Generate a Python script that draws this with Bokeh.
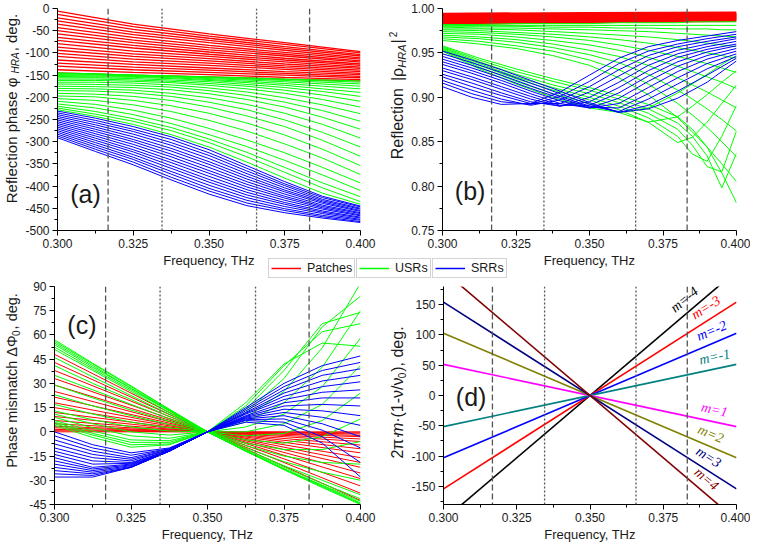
import math
from bokeh.plotting import figure
from bokeh.models import (Range1d, FixedTicker, NumeralTickFormatter, Span, Label,
                          Legend, LegendItem)
from bokeh.layouts import column, row
from bokeh.embed import file_html
from bokeh.resources import INLINE

# ---------------------------------------------------------------- data
FREQ_TICKS = [0.300, 0.325, 0.350, 0.375, 0.400]
FREQ_MINOR = [0.3125, 0.3375, 0.3625, 0.3875]
MARKER_FREQS = [0.3167, 0.3345, 0.3657, 0.3832]
MARKER_DASH = ["6 3", "2 2", "2 2", "6 3"]
FAMILIES = ["Patches", "USRs", "SRRs"]

X3 = [0.300, 0.350, 0.400]
X5 = [0.300, 0.325, 0.350, 0.375, 0.400]
X9 = [0.300, 0.3125, 0.325, 0.3375, 0.350, 0.3625, 0.375, 0.3875, 0.400]
XB_GREEN = [0.300, 0.3125, 0.325, 0.3375, 0.350, 0.360, 0.370, 0.380, 0.385, 0.390, 0.395, 0.400]
XB_BLUE = [0.300, 0.310, 0.320, 0.330, 0.340, 0.350, 0.360, 0.370, 0.380, 0.390, 0.400]

# (a) reflection phase, deg. -- patches, one row per frequency of X5
A_RED_BY_FREQ = [
    [-6, -13, -21, -28, -35, -43, -50, -57, -65, -72, -79, -87, -94, -101, -108, -116, -123, -130, -138, -145],
    [-35, -41, -47, -53, -59, -65, -71, -77, -83, -89, -96, -102, -108, -114, -120, -126, -132, -138, -144, -150],
    [-57, -62, -67, -72, -77, -83, -88, -93, -98, -103, -108, -113, -118, -123, -128, -134, -139, -144, -149, -154],
    [-77, -81, -86, -90, -94, -99, -103, -107, -112, -116, -120, -125, -129, -133, -137, -142, -146, -150, -155, -159],
    [-97, -100, -104, -107, -111, -114, -118, -121, -125, -128, -132, -135, -139, -142, -146, -149, -153, -156, -160, -163],
]
# (a) USRs, one curve per row over X9
A_GREEN_CURVES = [
    [-145, -147, -150, -152, -154, -156, -159, -161, -163],
    [-146, -148, -150, -152, -155, -157, -160, -163, -166],
    [-147, -148, -150, -153, -156, -159, -162, -166, -170],
    [-149, -150, -152, -154, -158, -161, -165, -170, -175],
    [-151, -152, -153, -156, -160, -164, -169, -175, -181],
    [-153, -154, -155, -158, -162, -167, -173, -181, -189],
    [-156, -156, -158, -161, -165, -171, -178, -187, -198],
    [-159, -159, -161, -164, -169, -175, -184, -195, -209],
    [-162, -162, -164, -167, -173, -181, -191, -205, -222],
    [-166, -166, -168, -172, -179, -188, -201, -217, -237],
    [-170, -171, -173, -177, -185, -196, -211, -230, -254],
    [-175, -176, -178, -183, -192, -205, -222, -245, -272],
    [-180, -181, -184, -191, -201, -216, -236, -261, -292],
    [-185, -186, -190, -198, -211, -228, -251, -279, -312],
    [-191, -193, -198, -207, -222, -242, -266, -297, -333],
    [-197, -199, -207, -219, -236, -258, -285, -317, -354],
    [-203, -207, -217, -232, -252, -276, -305, -337, -374],
    [-209, -216, -229, -247, -270, -296, -325, -358, -393],
    [-215, -224, -239, -259, -284, -311, -342, -375, -410],
    [-220, -232, -248, -268, -294, -324, -358, -393, -424],
    [-224, -238, -254, -275, -302, -334, -369, -404, -435],
    [-228, -243, -261, -284, -312, -346, -382, -416, -441],
]
# (a) SRRs, one row per frequency of X9
A_BLUE_BY_FREQ = [
    [-231, -235, -239, -243, -247, -251, -255, -259, -263, -267, -271, -275, -279, -283, -287, -291],
    [-247, -252, -257, -262, -267, -272, -277, -282, -287, -292, -297, -302, -307, -312, -317, -322],
    [-266, -272, -277, -283, -289, -295, -300, -306, -312, -318, -323, -329, -335, -340, -346, -352],
    [-289, -295, -302, -308, -315, -321, -328, -334, -341, -347, -354, -360, -367, -373, -380, -386],
    [-318, -325, -331, -338, -345, -351, -358, -365, -371, -378, -385, -391, -398, -405, -411, -418],
    [-354, -360, -366, -372, -378, -384, -390, -396, -402, -408, -414, -420, -426, -432, -438, -444],
    [-390, -395, -399, -404, -409, -413, -418, -423, -427, -432, -437, -441, -446, -451, -455, -460],
    [-423, -426, -430, -433, -436, -439, -443, -446, -449, -452, -456, -459, -462, -466, -469, -472],
    [-445, -447, -450, -452, -455, -457, -460, -462, -465, -467, -470, -472, -475, -477, -480, -482],
]

# (b) reflection |rho|^2 -- patches, one row per frequency of X3
B_RED_BY_FREQ = [
    [0.9935, 0.9923, 0.9912, 0.9900, 0.9888, 0.9877, 0.9865, 0.9853, 0.9842, 0.9830],
    [0.9945, 0.9934, 0.9924, 0.9913, 0.9903, 0.9892, 0.9881, 0.9871, 0.9860, 0.9850],
    [0.9950, 0.9941, 0.9931, 0.9922, 0.9912, 0.9903, 0.9894, 0.9884, 0.9875, 0.9865],
]
# (b) USRs, one curve per row over XB_GREEN
B_GREEN_CURVES = [
    [0.982, 0.982, 0.983, 0.983, 0.983, 0.984, 0.984, 0.984, 0.985, 0.985, 0.985, 0.985],
    [0.981, 0.981, 0.981, 0.981, 0.981, 0.981, 0.981, 0.981, 0.981, 0.981, 0.981, 0.981],
    [0.980, 0.980, 0.980, 0.979, 0.979, 0.978, 0.978, 0.977, 0.977, 0.977, 0.976, 0.976],
    [0.979, 0.978, 0.978, 0.977, 0.976, 0.975, 0.974, 0.972, 0.971, 0.970, 0.969, 0.968],
    [0.977, 0.977, 0.976, 0.974, 0.972, 0.970, 0.968, 0.965, 0.963, 0.961, 0.959, 0.957],
    [0.976, 0.975, 0.973, 0.971, 0.968, 0.965, 0.961, 0.956, 0.953, 0.950, 0.947, 0.944],
    [0.974, 0.973, 0.971, 0.968, 0.964, 0.959, 0.953, 0.946, 0.942, 0.938, 0.933, 0.928],
    [0.972, 0.971, 0.968, 0.964, 0.959, 0.953, 0.945, 0.935, 0.929, 0.923, 0.917, 0.910],
    [0.970, 0.968, 0.965, 0.960, 0.953, 0.946, 0.936, 0.922, 0.914, 0.906, 0.897, 0.888],
    [0.968, 0.966, 0.962, 0.956, 0.948, 0.939, 0.926, 0.908, 0.898, 0.887, 0.875, 0.862],
    [0.966, 0.963, 0.958, 0.952, 0.942, 0.931, 0.915, 0.893, 0.880, 0.866, 0.850, 0.833],
    [0.964, 0.960, 0.955, 0.947, 0.936, 0.922, 0.903, 0.877, 0.861, 0.844, 0.825, 0.805],
    [0.952, 0.932, 0.915, 0.900, 0.888, 0.883, 0.888, 0.905, 0.915, 0.926, 0.937, 0.947],
    [0.953, 0.934, 0.918, 0.904, 0.893, 0.883, 0.872, 0.878, 0.890, 0.903, 0.917, 0.930],
    [0.954, 0.936, 0.921, 0.908, 0.897, 0.886, 0.872, 0.849, 0.855, 0.872, 0.893, 0.914],
    [0.955, 0.938, 0.923, 0.911, 0.900, 0.890, 0.877, 0.856, 0.836, 0.828, 0.856, 0.891],
    [0.956, 0.940, 0.926, 0.914, 0.904, 0.894, 0.882, 0.864, 0.846, 0.822, 0.816, 0.862],
    [0.957, 0.942, 0.929, 0.918, 0.908, 0.898, 0.887, 0.871, 0.856, 0.834, 0.798, 0.837],
    [0.958, 0.944, 0.932, 0.921, 0.911, 0.902, 0.892, 0.878, 0.864, 0.844, 0.815, 0.781],
]
# (b) SRRs, one curve per row over XB_BLUE
B_BLUE_CURVES = [
    [0.912, 0.900, 0.892, 0.893, 0.906, 0.925, 0.944, 0.957, 0.964, 0.969, 0.974],
    [0.916, 0.904, 0.895, 0.892, 0.901, 0.918, 0.938, 0.952, 0.960, 0.966, 0.971],
    [0.919, 0.908, 0.898, 0.891, 0.897, 0.912, 0.931, 0.947, 0.957, 0.963, 0.968],
    [0.923, 0.912, 0.902, 0.893, 0.893, 0.906, 0.924, 0.942, 0.953, 0.960, 0.966],
    [0.926, 0.916, 0.905, 0.895, 0.890, 0.900, 0.917, 0.936, 0.949, 0.957, 0.963],
    [0.930, 0.920, 0.909, 0.898, 0.890, 0.895, 0.911, 0.930, 0.945, 0.954, 0.960],
    [0.933, 0.923, 0.912, 0.901, 0.891, 0.891, 0.905, 0.924, 0.940, 0.951, 0.958],
    [0.937, 0.927, 0.916, 0.904, 0.893, 0.888, 0.899, 0.918, 0.935, 0.947, 0.955],
    [0.940, 0.930, 0.919, 0.907, 0.896, 0.888, 0.893, 0.911, 0.929, 0.943, 0.952],
    [0.943, 0.933, 0.922, 0.910, 0.899, 0.889, 0.888, 0.904, 0.922, 0.938, 0.949],
    [0.946, 0.936, 0.925, 0.913, 0.901, 0.890, 0.884, 0.898, 0.915, 0.932, 0.946],
    [0.949, 0.939, 0.928, 0.916, 0.904, 0.892, 0.883, 0.891, 0.907, 0.925, 0.944],
    [0.952, 0.942, 0.931, 0.919, 0.907, 0.894, 0.883, 0.887, 0.899, 0.917, 0.941],
]

# (c) phase mismatch, deg. -- patches, one row per frequency of X3
C_RED_BY_FREQ = [
    [0, 0.7, 1.5, 2.5, 3.5, 5, 7, 9.5, 12, 15, 18, 21.5, 25, 29, 33, 38, 43, 48],
    [0, 0, 0, 0, 0, 0, 0, 0, 0, 0, 0, 0, 0, 0, 0, 0, 0, 0],
    [0, -0.6, -1.3, -2.2, -3, -4.4, -6, -8.2, -10.5, -13, -16, -19, -22, -25.5, -29, -33.5, -38, -42.5],
]
# (c) USRs, one curve per row over X9
C_GREEN_CURVES = [
    [57, 42.5, 28.5, 14, 0, -12, -23.5, -34.5, -45],
    [56, 42, 28, 14, 0, -12, -23, -34, -44.5],
    [55, 41, 27, 13.5, 0, -12, -23, -33.5, -44],
    [54, 40, 27, 13, 0, -12, -23, -33, -43],
    [52.5, 39, 26, 13, 0, -11.5, -22, -32, -41.5],
    [51, 38, 25, 12, 0, -11, -21, -30, -39],
    [46, 34, 22.5, 11, 0, -10, -18.5, -25, -30],
    [41, 30, 20, 9.5, 0, -8.5, -15, -19, -20],
    [35, 26, 17, 8, 0, -7, -11, -11, -6],
    [29, 21, 13.5, 6.5, 0, -5, -7, -3, 8],
    [23, 16, 10, 4.5, 0, -2.5, -1, 7, 24],
    [17, 11, 6, 2.5, 0, 0, 5, 17, 41],
    [13, 7.5, 3, 0.5, 0, 3, 11, 28, 58],
    [11, 5, 0, -2, 0, 6, 18, 40, 75],
    [9, 2.5, -2.5, -4, 0, 9, 25, 52, 92],
    [7, 0.5, -5, -5.5, 0, 12, 33, 65, 84],
    [6, -1, -6.5, -6.5, 0, 14, 38, 67, 74],
    [5, -2, -8, -7.5, 0, 16, 41, 62, 67],
    [4, -3.5, -9.5, -8, 0, 18, 42, 55, 53],
]
# (c) SRRs, one row per frequency of X9
C_BLUE_BY_FREQ = [
    [-28, -26, -24, -22, -20, -18, -16, -14, -12, -10, -7.5, -5, -2.5, 0],
    [-28, -27, -26, -25, -24, -23, -22, -20, -18, -16, -14, -12, -10, -8],
    [-22, -22, -22, -21.5, -21, -20.5, -20, -19.5, -19, -18, -17, -16, -14.5, -13],
    [-12, -12, -12, -12, -12, -12, -12, -11.5, -11.5, -11, -11, -10.5, -10.5, -10],
    [0, 0, 0, 0, 0, 0, 0, 0, 0, 0, 0, 0, 0, 0],
    [15, 14, 13, 12, 11.5, 11, 10, 9.5, 9, 8.5, 8, 7.5, 7, 6],
    [30, 28, 26, 24, 22, 20, 18, 16, 14, 12, 10, 8, 6, 4],
    [41, 38, 35, 31.5, 28, 24.5, 21, 17, 13, 9, 5, 1, -3, -7],
    [47, 43, 39, 35, 31, 26, 21, 16, 10, 4, -3, -10, -19, -28],
]

# (d) 2*pi*m*(1 - nu/nu0), deg. -- straight lines, values at 0.300 and 0.400 THz
D_FREQS = [0.300, 0.400]
D_M = [-4, -3, -2, -1, 1, 2, 3, 4]
D_AT_300 = [-205.7, -154.3, -102.9, -51.4, 51.4, 102.9, 154.3, 205.7]
D_AT_400 = [205.7, 154.3, 102.9, 51.4, -51.4, -102.9, -154.3, -205.7]
D_COLORS = ["#000000", "#ff0000", "#0000ff", "#008080", "#ff00ff", "#808000", "#000080", "#800000"]
D_LABEL_FREQ = [0.3822, 0.3895, 0.3915, 0.3925, 0.3925, 0.3912, 0.3905, 0.3898]

# ---------------------------------------------------------------- style
FONT = "Liberation Sans"
RED, GREEN, BLUE = "#ff0000", "#00ff00", "#0000ff"
TXT = "#1a1a1a"

CW = {' ': .278, 'R': .722, 'e': .556, 'f': .278, 'l': .222, 'c': .5, 't': .278, 'i': .222,
      'o': .556, 'n': .556, 'p': .556, 'h': .556, 'a': .556, 's': .5, 'φ': .65, ',': .278,
      'd': .556, 'g': .556, '.': .278, '|': .26, 'ρ': .58, 'H': .722, 'A': .667, '²': .333,
      'P': .667, 'm': .833, 'Δ': .668, 'Φ': .76, '0': .556, '2': .556, 'π': .57, '·': .278,
      '(': .333, ')': .333, '1': .556, '-': .333, 'ν': .5, '/': .278}


def text_len(s, size):
    return sum(CW.get(ch, .556) for ch in s) * size


def by_freq_to_curves(rows):
    return [list(c) for c in zip(*rows)]


def panel(width, height, yr, yticks, yminor, yfmt, mbl, mbr, mbt):
    p = figure(width=width, height=height, x_range=Range1d(0.3, 0.4), y_range=Range1d(*yr),
               output_backend="svg", toolbar_location=None,
               min_border_left=mbl, min_border_right=mbr, min_border_top=mbt,
               min_border_bottom=0, background_fill_color="white", border_fill_color="white")
    p.grid.visible = False
    p.outline_line_color = None
    xa, ya = p.xaxis[0], p.yaxis[0]
    xa.ticker = FixedTicker(ticks=FREQ_TICKS, minor_ticks=FREQ_MINOR)
    xa.formatter = NumeralTickFormatter(format="0.000")
    ya.ticker = FixedTicker(ticks=yticks, minor_ticks=yminor)
    ya.formatter = NumeralTickFormatter(format=yfmt)
    for ax in (xa, ya):
        ax.major_tick_in = 0
        ax.major_tick_out = 5
        ax.minor_tick_in = 0
        ax.minor_tick_out = 3
        ax.axis_line_color = "black"
        ax.major_tick_line_color = "black"
        ax.minor_tick_line_color = "black"
        ax.major_label_text_font = FONT
        ax.major_label_text_font_size = "12px"
        ax.major_label_text_color = TXT
        ax.major_label_standoff = 3
    xa.axis_label = "Frequency, THz"
    xa.axis_label_text_font = FONT
    xa.axis_label_text_font_size = "13px"
    xa.axis_label_text_font_style = "normal"
    xa.axis_label_text_color = TXT
    xa.axis_label_standoff = 2
    for f, d in zip(MARKER_FREQS, MARKER_DASH):
        p.add_layout(Span(location=f, dimension="height", line_color="#555555",
                          line_width=1.3, line_dash=d))
    return p


def label_column(width, height, parts, y_center):
    """Narrow blank canvas carrying a rotated multi-part y-axis title.
    Its frame is aligned with the neighbouring plot frame, so y_center is
    measured upward from that plot's bottom axis line."""
    f = figure(width=width, height=height, x_range=Range1d(0, 1), y_range=Range1d(0, 1),
               output_backend="svg", toolbar_location=None, min_border=0,
               x_axis_location=None, y_axis_location=None)
    f.grid.visible = False
    f.outline_line_color = None
    total = sum(text_len(t, s) + g for t, s, _, _, g in parts)
    y = y_center - total / 2
    for t, s, style, shift, gap in parts:
        f.add_layout(Label(x=width / 2 + shift, y=y, x_units="screen", y_units="screen",
                           text=t, angle=90, angle_units="deg",
                           text_font=FONT, text_font_size=f"{s}px", text_font_style=style,
                           text_align="left", text_baseline="middle", text_color=TXT))
        y += text_len(t, s) + gap
    return f


def letter(p, txt, y):
    p.add_layout(Label(x=0.3042, y=y, text=txt, text_font=FONT, text_font_size="25px",
                       text_align="left", text_baseline="middle", text_color=TXT))


def draw_family(p, xs, curves, color, lw=1.0):
    p.multi_line(xs=[xs] * len(curves), ys=curves, line_color=color, line_width=lw)


H1, H2, LW = 270, 266, 22

# ---------------------------------------------------------------- panel (a)
pa = panel(364, H1, (-500, 0), list(range(-500, 1, 50)), list(range(-475, 0, 50)), "0", 32, 26, 8)
draw_family(pa, X5, by_freq_to_curves(A_RED_BY_FREQ), RED, 1.3)
draw_family(pa, X9, A_GREEN_CURVES, GREEN, 1.0)
draw_family(pa, X9, by_freq_to_curves(A_BLUE_BY_FREQ), BLUE, 1.0)
letter(pa, "(a)", -417)
la = label_column(LW, H1, [("Reflection phase  φ", 15, "normal", 0, 0),
                           ("HRA", 10, "italic", 4, 1),
                           (", deg.", 15, "normal", 0, 0)], 122)

# ---------------------------------------------------------------- panel (b)
pb = panel(342, H1, (0.75, 1.0), [0.75, 0.80, 0.85, 0.90, 0.95, 1.00],
           [0.775, 0.825, 0.875, 0.925, 0.975], "0.00", 32, 14, 8)
draw_family(pb, X3, by_freq_to_curves(B_RED_BY_FREQ), RED, 3.0)
draw_family(pb, XB_GREEN, B_GREEN_CURVES, GREEN, 1.0)
draw_family(pb, XB_BLUE, B_BLUE_CURVES, BLUE, 1.0)
letter(pb, "(b)", 0.794)
lb = label_column(LW, H1, [("Reflection", 16, "normal", 0, 7),
                           ("|ρ", 16, "normal", 0, 0),
                           ("HRA", 11, "italic", 4, 1),
                           ("|", 16, "normal", 0, 2),
                           ("2", 10, "normal", -5, 0)], 135)

# ---------------------------------------------------------------- panel (c)
pc = panel(364, H2, (-45, 90), list(range(-45, 91, 15)), [-37.5 + 15 * i for i in range(9)],
           "0", 32, 26, 8)
draw_family(pc, X3, by_freq_to_curves(C_RED_BY_FREQ), RED, 1.0)
draw_family(pc, X9, C_GREEN_CURVES, GREEN, 1.0)
draw_family(pc, X9, by_freq_to_curves(C_BLUE_BY_FREQ), BLUE, 1.0)
letter(pc, "(c)", 66)
lc = label_column(LW, H2, [("Phase mismatch ΔΦ", 14.5, "normal", 0, 0),
                           ("0", 10, "normal", 4, 1),
                           (", deg.", 14.5, "normal", 0, 0)], 124)

# ---------------------------------------------------------------- panel (d)
pd = panel(342, H2, (-180, 180), list(range(-150, 151, 50)), list(range(-175, 176, 50)),
           "0", 32, 14, 8)
for m, v0, v1, col in zip(D_M, D_AT_300, D_AT_400, D_COLORS):
    pd.line(x=D_FREQS, y=[v0, v1], line_color=col, line_width=1.6)
for m, v0, v1, col, lf in zip(D_M, D_AT_300, D_AT_400, D_COLORS, D_LABEL_FREQ):
    on_line = v0 + (v1 - v0) * (lf - D_FREQS[0]) / (D_FREQS[1] - D_FREQS[0])
    ang = math.atan((v1 - v0) / 360.0 * 218 / 296)
    pd.add_layout(Label(x=lf, y=on_line, y_offset=12 / math.cos(ang), text=f"m={m}",
                        angle=math.degrees(ang), angle_units="deg",
                        text_font="Liberation Serif", text_font_style="italic",
                        text_font_size="14px", text_color=col, text_align="center",
                        text_baseline="middle"))
letter(pd, "(d)", -3)
ld = label_column(LW, H2, [("2π·", 16, "normal", 0, 0), ("m", 16, "italic", 0, 0),
                           ("·(1-ν/ν", 16, "normal", 0, 0), ("0", 10, "normal", 4, 1),
                           ("), deg.", 16, "normal", 0, 0)], 112)

# ---------------------------------------------------------------- legend strip
strip = figure(width=750, height=20, x_range=Range1d(0, 1), y_range=Range1d(0, 1),
               output_backend="svg", toolbar_location=None, min_border=0,
               x_axis_location=None, y_axis_location=None,
               background_fill_alpha=0, border_fill_alpha=0)
strip.grid.visible = False
strip.outline_line_color = None
strip.margin = (-12, 0, 0, 0)
for name, col, xpos in zip(FAMILIES, [RED, GREEN, BLUE], [268, 356, 432]):
    r = strip.line(x=[2, 3], y=[2, 3], line_color=col, line_width=1.5)
    leg = Legend(items=[LegendItem(label=name, renderers=[r])], location=(xpos, 0),
                 orientation="horizontal", margin=0, padding=2, spacing=0,
                 glyph_width=30, glyph_height=12, label_height=12, label_standoff=6,
                 label_text_font=FONT, label_text_font_size="12.5px",
                 label_text_color=TXT, border_line_color="#a8a8a8",
                 border_line_width=1, background_fill_color="white", background_fill_alpha=1)
    strip.add_layout(leg)

layout = column(row(la, pa, lb, pb), strip, row(lc, pc, ld, pd))
open("out.html", "w").write(file_html(layout, INLINE))
